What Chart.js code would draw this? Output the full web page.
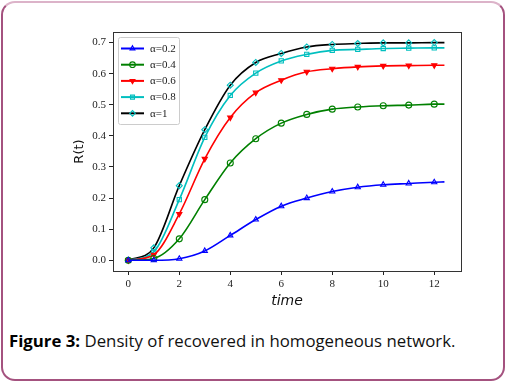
<!DOCTYPE html>
<html>
<head>
<meta charset="utf-8">
<script src="https://cdn.jsdelivr.net/npm/chart.js@4.4.1/dist/chart.umd.min.js"></script>
<style>
  html, body { margin: 0; padding: 0; background: #fff; }
  #card {
    position: absolute; left: 1px; top: 1px; width: 504px; height: 380px;
    box-sizing: border-box; border: 2px solid #a4527f; border-top-color: #dcb3c9;
    border-radius: 14px;
  }
  #wrap { position: absolute; left: 0; top: 0; width: 510px; height: 310px; }
  #caption {
    position: absolute; left: 9px; top: 329px; white-space: nowrap;
    font-family: "Open Sans", sans-serif; font-size: 16.8px; color: #111;
  }
  #caption b { color: #000; }
</style>
</head>
<body>
<div id="card"></div>
<div id="wrap"><canvas id="chart"></canvas></div>
<div id="caption"><b>Figure 3:</b> Density of recovered in homogeneous network.</div>
<script>
// valores (t inteiro + fim da curva sem marcador)
const times = [0, 1, 2, 3, 4, 5, 6, 7, 8, 9, 10, 11, 12, 12.4];
const r02 = [0, 0.0, 0.005, 0.03, 0.08, 0.131, 0.174, 0.2, 0.221, 0.235, 0.243, 0.247, 0.251, 0.252];
const r04 = [0, 0.006, 0.069, 0.195, 0.313, 0.391, 0.441, 0.469, 0.486, 0.493, 0.497, 0.499, 0.502, 0.502];
const r06 = [0, 0.018, 0.149, 0.326, 0.459, 0.539, 0.579, 0.606, 0.616, 0.622, 0.625, 0.626, 0.627, 0.627];
const r08 = [0, 0.027, 0.195, 0.395, 0.530, 0.602, 0.641, 0.662, 0.675, 0.678, 0.681, 0.682, 0.683, 0.683];
const r10 = [0, 0.04, 0.24, 0.42, 0.563, 0.636, 0.665, 0.686, 0.694, 0.697, 0.699, 0.699, 0.700, 0.700];
const labels = ['α=0.2', 'α=0.4', 'α=0.6', 'α=0.8', 'α=1'];
const xTicks = [0, 2, 4, 6, 8, 10, 12];
const yTicks = [0, 0.1, 0.2, 0.3, 0.4, 0.5, 0.6, 0.7];

function pts(values) {
    return values.map((v, i) => ({ x: times[i], y: v }));
}
// sem marcador no último ponto
const radii = times.map(t => Number.isInteger(t) ? 3 : 0);

function serie(label, values, line, marker, style, fill, rot) {
    return {
        label: label,
        data: pts(values),
        borderColor: line,
        borderWidth: 1.6,
        pointStyle: style,
        pointRotation: rot || 0,
        pointRadius: radii,
        pointBorderColor: marker,
        pointBackgroundColor: fill,
        pointBorderWidth: 1.1,
        cubicInterpolationMode: 'monotone',
        fill: false
    };
}

const datasets = [
    serie(labels[0], r02, '#0000ff', '#0000ff', 'triangle', 'rgba(0,0,0,0)'),
    serie(labels[1], r04, '#008000', '#008000', 'circle', 'rgba(0,0,0,0)'),
    serie(labels[2], r06, '#ff0000', '#ff0000', 'triangle', '#ff0000', 180),
    serie(labels[3], r08, '#00bfbf', '#00bfbf', 'rect', 'rgba(0,0,0,0)'),
    serie(labels[4], r10, '#000000', '#00bfbf', 'rectRot', 'rgba(0,0,0,0)')
];

// moldura do gráfico + legenda dentro da área
const framePlugin = {
    id: 'frame',
    afterDraw(chart) {
        const ctx = chart.ctx;
        const a = chart.chartArea;
        ctx.save();
        ctx.strokeStyle = '#333';
        ctx.lineWidth = 1;
        ctx.strokeRect(Math.round(a.left) + 0.5, Math.round(a.top) + 0.5,
            Math.round(a.right - a.left), Math.round(a.bottom - a.top));

        // legenda
        ctx.fillStyle = '#fff';
        ctx.strokeStyle = '#ccc';
        ctx.beginPath();
        ctx.roundRect(118.5, 37.5, 61, 87, 2);
        ctx.fill();
        ctx.stroke();
        ctx.font = '11px "Liberation Serif", serif';
        ctx.textBaseline = 'middle';
        chart.data.datasets.forEach((ds, i) => {
            const y = 48.5 + i * 16.2;
            ctx.strokeStyle = ds.borderColor;
            ctx.lineWidth = 2;
            ctx.beginPath();
            ctx.moveTo(121, y);
            ctx.lineTo(144, y);
            ctx.stroke();
            ctx.strokeStyle = ds.pointBorderColor;
            ctx.fillStyle = ds.pointBackgroundColor;
            ctx.lineWidth = ds.pointBorderWidth;
            Chart.helpers.drawPoint(ctx, {
                pointStyle: ds.pointStyle, rotation: ds.pointRotation,
                radius: 2.8, borderWidth: ds.pointBorderWidth
            }, 132.5, y);
            ctx.fillStyle = '#222';
            ctx.fillText(ds.label, 150, y + 0.5);
        });
        ctx.restore();
    }
};

const tickFont = { family: '"Liberation Serif", serif', size: 11 };

new Chart(document.getElementById('chart'), {
    type: 'line',
    data: { datasets: datasets },
    plugins: [framePlugin],
    options: {
        responsive: true,
        maintainAspectRatio: false,
        animation: false,
        layout: { padding: { top: 32, right: 49, left: 0, bottom: 0 } },
        plugins: { legend: { display: false }, tooltip: { enabled: false } },
        scales: {
            x: {
                type: 'linear',
                min: -0.6,
                max: 13.05,
                afterBuildTicks: axis => { axis.ticks = xTicks.map(v => ({ value: v })); },
                afterFit: axis => { axis.height = 39; },
                grid: { drawOnChartArea: false, tickLength: 4, color: '#222' },
                border: { display: false },
                ticks: { font: tickFont, color: '#222', padding: 3, maxRotation: 0,
                    callback: v => String(v) },
                title: { display: true, text: 'time', color: '#111',
                    font: { family: '"DejaVu Sans", sans-serif', size: 14, style: 'italic' },
                    padding: { top: 0, bottom: 0 } }
            },
            y: {
                min: -0.0344,
                max: 0.734,
                afterBuildTicks: axis => { axis.ticks = yTicks.map(v => ({ value: v })); },
                afterFit: axis => { axis.width = 113; },
                grid: { drawOnChartArea: false, tickLength: 4, color: '#222' },
                border: { display: false },
                ticks: { font: tickFont, color: '#222', padding: 3,
                    callback: v => v.toFixed(1) },
                title: { display: true, text: 'R(t)', color: '#111',
                    font: { family: '"DejaVu Sans", sans-serif', size: 13 },
                    padding: { top: 72, bottom: 0 } }
            }
        }
    }
});
</script>
</body>
</html>
